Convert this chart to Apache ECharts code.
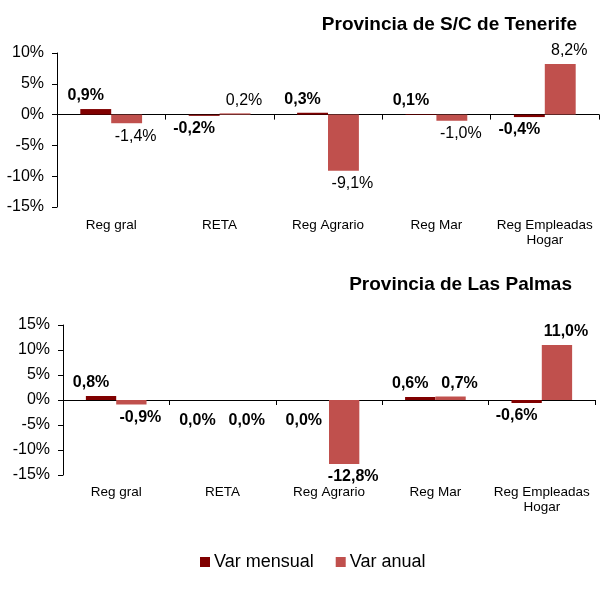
<!DOCTYPE html>
<html>
<head>
<meta charset="utf-8">
<title>Var mensual / Var anual</title>
<script src="https://cdn.jsdelivr.net/npm/echarts@6/dist/echarts.min.js"></script>
<style>
  html, body { margin: 0; padding: 0; background: #fff; }
  #chart { width: 601px; height: 590px; }
</style>
</head>
<body>
<div id="chart"></div>
<script>
const categories = ["Reg gral", "RETA", "Reg Agrario", "Reg Mar", "Reg Empleadas\nHogar"];
const tenerifeMensual = [0.9, -0.2, 0.3, 0.1, -0.4];
const tenerifeAnual = [-1.4, 0.2, -9.1, -1.0, 8.2];
const palmasMensual = [0.8, 0.0, 0.0, 0.6, -0.6];
const palmasAnual = [-0.9, 0.0, -12.8, 0.7, 11.0];
const tenerifeRange = [-15, 10];
const palmasRange = [-15, 15];
const seriesNames = ["Var mensual", "Var anual"];
const titles = ["Provincia de S/C de Tenerife", "Provincia de Las Palmas"];

const FONT = "'Liberation Sans', Arial, sans-serif";
const COLOR_MENSUAL = "#800000";
const COLOR_ANUAL = "#C0504D";

const chart = echarts.init(document.getElementById("chart"));

function pct(value) {
  return value.toFixed(1).replace(".", ",") + "%";
}

// positive values get the label above the bar, zero and negative below
// (zero labels sit a bit lower, like in the original sheet)
function barData(values) {
  return values.map((v) => ({
    value: v,
    label: { position: v > 0 ? "top" : "bottom", distance: v === 0 ? 13 : 5 },
  }));
}

function barSeries(name, values, gridIndex, color, bold, dx) {
  return {
    name: name,
    type: "bar",
    xAxisIndex: gridIndex * 2,
    yAxisIndex: gridIndex,
    data: barData(values),
    barGap: "0%",
    barCategoryGap: "43%",
    itemStyle: { color: color },
    label: {
      show: true,
      formatter: (p) => pct(p.value),
      fontFamily: FONT,
      fontSize: 16,
      fontWeight: bold ? "bold" : "normal",
      color: "#000",
      offset: [dx, 0],
    },
  };
}

function zeroAxis(gridIndex) {
  return {
    type: "category",
    gridIndex: gridIndex,
    data: categories,
    position: "bottom",
    axisLine: { onZero: true, lineStyle: { color: "#000", width: 1 } },
    axisTick: { show: true, length: 5, interval: 0, lineStyle: { color: "#000" } },
    axisLabel: { show: false },
    splitLine: { show: false },
  };
}

function labelAxis(gridIndex, margin) {
  return {
    type: "category",
    gridIndex: gridIndex,
    data: categories,
    position: "bottom",
    axisLine: { show: false, onZero: false },
    axisTick: { show: false },
    axisLabel: {
      interval: 0,
      margin: margin,
      fontFamily: FONT,
      fontSize: 13.5,
      lineHeight: 15,
      color: "#000",
    },
    splitLine: { show: false },
  };
}

function valueAxis(gridIndex, range) {
  return {
    type: "value",
    gridIndex: gridIndex,
    min: range[0],
    max: range[1],
    interval: 5,
    axisLine: { show: true, lineStyle: { color: "#000", width: 1 } },
    axisTick: { show: true, length: 5, lineStyle: { color: "#000" } },
    axisLabel: {
      formatter: "{value}%",
      fontFamily: FONT,
      fontSize: 16,
      color: "#000",
      margin: 13,
    },
    splitLine: { show: false },
  };
}

chart.setOption({
  animation: false,
  textStyle: { fontFamily: FONT },
  title: [
    {
      text: titles[0],
      right: 24,
      top: 15,
      padding: 0,
      textStyle: { fontFamily: FONT, fontSize: 19, fontWeight: "bold", color: "#000" },
    },
    {
      text: titles[1],
      right: 29,
      top: 275,
      padding: 0,
      textStyle: { fontFamily: FONT, fontSize: 19, fontWeight: "bold", color: "#000" },
    },
  ],
  legend: {
    data: seriesNames,
    left: 200,
    top: 553,
    padding: 0,
    icon: "rect",
    itemWidth: 10,
    itemHeight: 10,
    itemGap: 22,
    textStyle: { fontFamily: FONT, fontSize: 18, color: "#000", padding: [0, 0, 0, -1] },
  },
  grid: [
    { left: 57, top: 53, width: 542, height: 154 },
    { left: 63, top: 325, width: 532, height: 150 },
  ],
  xAxis: [zeroAxis(0), labelAxis(0, 11), zeroAxis(1), labelAxis(1, 10)],
  yAxis: [valueAxis(0, tenerifeRange), valueAxis(1, palmasRange)],
  series: [
    barSeries(seriesNames[0], tenerifeMensual, 0, COLOR_MENSUAL, true, -10),
    barSeries(seriesNames[1], tenerifeAnual, 0, COLOR_ANUAL, false, 9),
    barSeries(seriesNames[0], palmasMensual, 1, COLOR_MENSUAL, true, -10),
    barSeries(seriesNames[1], palmasAnual, 1, COLOR_ANUAL, true, 9),
  ],
});
</script>
</body>
</html>
